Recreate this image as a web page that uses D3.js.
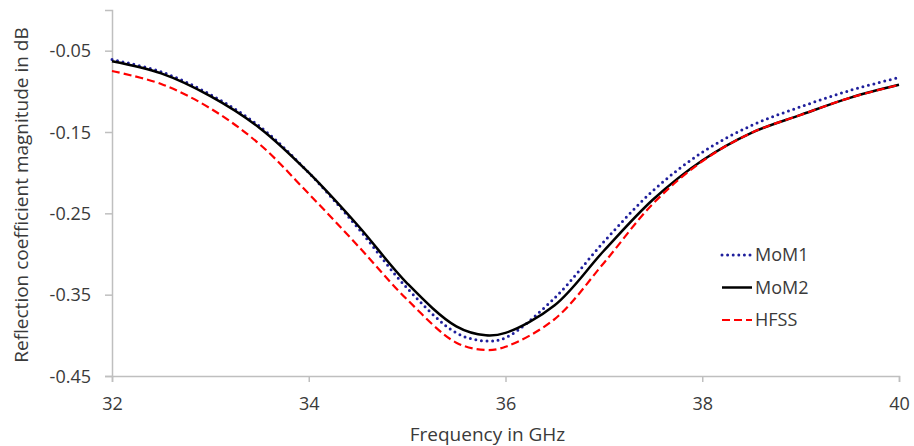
<!DOCTYPE html>
<html>
<head>
<meta charset="utf-8">
<script src="https://cdn.jsdelivr.net/npm/d3@7"></script>
<style>
  body { margin: 0; background: #fff; }
  svg text { font-family: "Open Sans", sans-serif; fill: #3a3a3a; }
</style>
</head>
<body>
<div id="chart"></div>
<script>
// frequencies in GHz
const freq = [32, 32.5, 33, 33.5, 34, 34.5, 35, 35.5, 35.8, 36, 36.5, 37, 37.5, 38, 38.5, 39, 39.5, 40];

// reflection coefficient magnitude in dB
const mom1 = [-0.061, -0.076, -0.104, -0.143, -0.200, -0.268, -0.342, -0.397, -0.407, -0.403, -0.354, -0.285, -0.222, -0.175, -0.142, -0.119, -0.099, -0.083];
const mom2 = [-0.063, -0.078, -0.106, -0.145, -0.200, -0.265, -0.336, -0.389, -0.400, -0.397, -0.363, -0.296, -0.233, -0.185, -0.151, -0.129, -0.108, -0.092];
const hfss = [-0.075, -0.091, -0.121, -0.165, -0.226, -0.290, -0.356, -0.409, -0.418, -0.414, -0.380, -0.311, -0.238, -0.186, -0.151, -0.129, -0.108, -0.092];

const xTicks = [32, 34, 36, 38, 40];
const yTicks = [-0.45, -0.35, -0.25, -0.15, -0.05];

const seriesNames = ["MoM1", "MoM2", "HFSS"];

const W = 914, H = 446;
const margin = {top: 10, right: 15, bottom: 70, left: 112};
const width = W - margin.left - margin.right,
      height = H - margin.top - margin.bottom;

const svg = d3.select("#chart")
    .append("svg")
    .attr("width", W)
    .attr("height", H);

const g = svg.append("g")
    .attr("transform", `translate(${margin.left},${margin.top})`);

const x = d3.scaleLinear().domain([32, 40]).range([0, width]);
const y = d3.scaleLinear().domain([-0.45, 0]).range([height, 0]);

// x axis
const xAxis = g.append("g")
    .attr("transform", `translate(0,${height})`)
    .call(d3.axisBottom(x).tickValues(xTicks).tickSize(6).tickPadding(15).tickFormat(d3.format("d")));

// y axis (hyphen instead of unicode minus, like the original)
const yAxis = g.append("g")
    .call(d3.axisLeft(y).tickValues(yTicks).tickSize(7).tickPadding(14)
        .tickFormat(d => d.toFixed(2)));

[xAxis, yAxis].forEach(ax => {
    ax.select(".domain").attr("stroke", "#bfbfbf").attr("stroke-width", 1.5);
    ax.selectAll(".tick line").attr("stroke", "#bfbfbf").attr("stroke-width", 1.5);
    ax.selectAll(".tick text")
        .style("font-family", "'Open Sans', sans-serif")
        .style("font-size", "18px")
        .attr("fill", "#3a3a3a");
});
yAxis.selectAll(".tick text").attr("dy", "0.35em");

// axis titles
g.append("text")
    .attr("x", width / 2 - 18)
    .attr("y", height + 65)
    .attr("text-anchor", "middle")
    .style("font-size", "19px")
    .text("Frequency in GHz");

g.append("text")
    .attr("transform", "rotate(-90)")
    .attr("x", -height / 2 - 2)
    .attr("y", -margin.left + 28)
    .attr("text-anchor", "middle")
    .style("font-size", "19px")
    .text("Reflection coefficient magnitude in dB");

// series styles
const styles = {
    MoM1: {values: mom1, color: "#1f1f9c", width: 3, dash: "0,5.6", cap: "round"},
    MoM2: {values: mom2, color: "#000000", width: 2.5, dash: null, cap: "butt"},
    HFSS: {values: hfss, color: "#ff0000", width: 2.2, dash: "8,4", cap: "butt"}
};

const line = d3.line()
    .x(d => x(d[0]))
    .y(d => y(d[1]))
    .curve(d3.curveCatmullRom.alpha(0.5));

seriesNames.forEach(name => {
    const s = styles[name];
    g.append("path")
        .datum(freq.map((f, i) => [f, s.values[i]]))
        .attr("fill", "none")
        .attr("stroke", s.color)
        .attr("stroke-width", s.width)
        .attr("stroke-dasharray", s.dash)
        .attr("stroke-linecap", s.cap)
        .attr("d", line);
});

// legend
const legend = svg.append("g").attr("transform", "translate(722,255)");
seriesNames.forEach((name, i) => {
    const s = styles[name];
    const row = legend.append("g").attr("transform", `translate(0,${i * 32.5})`);
    row.append("line")
        .attr("x1", 0).attr("x2", 30)
        .attr("y1", 0).attr("y2", 0)
        .attr("stroke", s.color)
        .attr("stroke-width", s.width)
        .attr("stroke-dasharray", s.dash)
        .attr("stroke-linecap", s.cap);
    row.append("text")
        .attr("x", 33)
        .attr("y", 0)
        .attr("dy", "0.35em")
        .style("font-size", "18px")
        .text(name);
});
</script>
</body>
</html>
